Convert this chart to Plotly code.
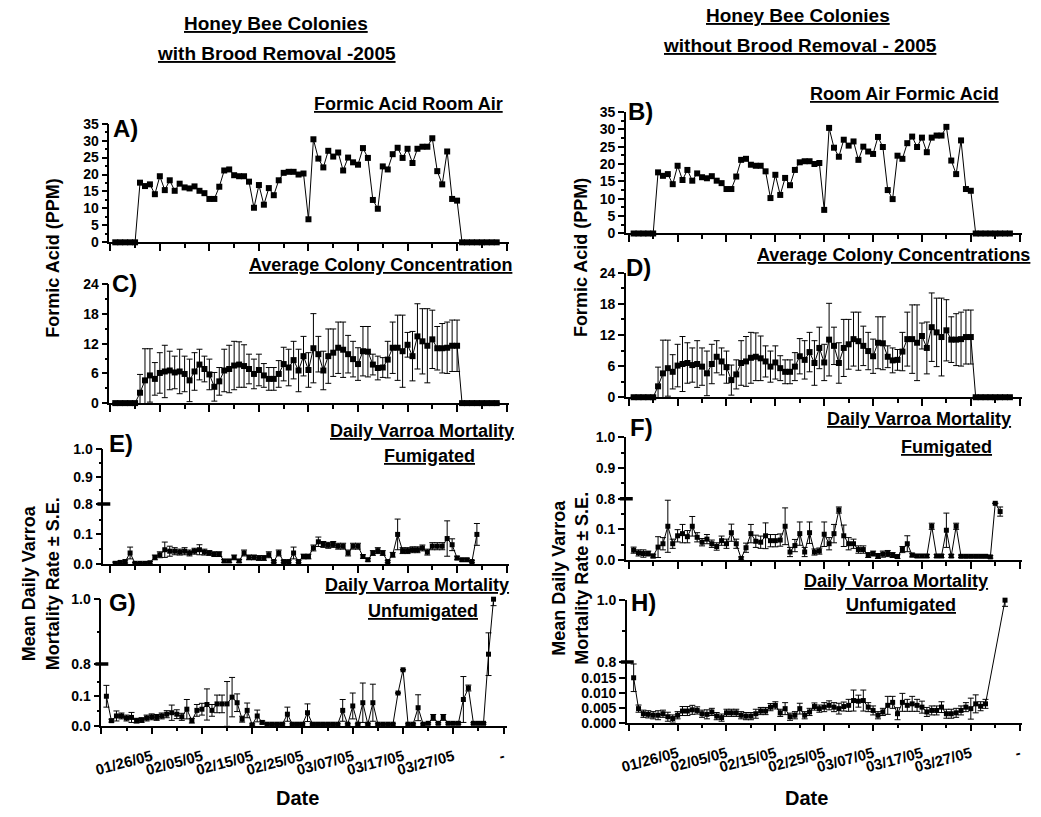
import plotly.graph_objects as go

W, H = 1041, 817
FONT = "Liberation Sans, Arial, sans-serif"

# ---------------- data ----------------
day_ticks = [0, 10, 20, 30, 40, 50, 60, 70, 80]
minor_days = [5, 15, 25, 35, 45, 55, 65, 75]
date_labels = ["", "01/26/05", "02/05/05", "02/15/05", "02/25/05",
               "03/07/05", "03/17/05", "03/27/05", "-"]

days_air = list(range(1, 79))
room_air = [0, 0, 0, 0, 0,
            17.6, 16.6, 17.1, 14.2, 19.5, 15.4, 18.3, 15.2, 17.3, 16.2,
            15.9, 16.5, 15.2, 14.5, 12.8, 12.8, 16.4, 21.2, 21.5, 19.8,
            19.5, 19.5, 17.9, 10.2, 16.9, 11.1, 16.0, 13.9, 18.3, 20.5,
            20.8, 20.8, 20.0, 20.3, 6.8, 30.4, 24.7, 22.1, 27.0, 25.3,
            26.5, 21.2, 25.0, 23.6, 22.9, 27.8, 24.9, 12.5, 9.9, 22.4,
            21.5, 26.0, 27.9, 24.9, 27.6, 23.4, 27.6, 28.2, 28.2, 30.7,
            21.0, 17.1, 26.8, 12.8, 12.3,
            0, 0, 0, 0, 0, 0, 0, 0]

colony_mean = [0, 0, 0, 0, 0,
               2.1, 4.6, 5.6, 4.9, 6.1, 6.4, 6.6, 6.2, 6.4, 5.9,
               4.6, 6.4, 7.8, 6.9, 5.8, 3.3, 4.4, 6.6, 6.9, 7.6,
               7.8, 7.5, 6.9, 5.9, 6.7, 5.6, 4.9, 4.9, 5.9, 7.9,
               7.2, 8.7, 6.6, 9.5, 6.7, 11.1, 9.9, 6.6, 9.5, 10.2,
               11.2, 10.8, 9.9, 8.9, 7.9, 10.5, 10.4, 7.8, 7.1, 7.2,
               8.8, 11.2, 11.2, 10.5, 11.8, 9.5, 13.5, 12.5, 11.6, 12.9,
               11.1, 11.1, 11.2, 11.6, 11.6,
               0, 0, 0, 0, 0, 0, 0, 0]
colony_sd = [None, None, None, None, None,
             3.7, 6.4, 5.4, 3.3, 4.1, 5.3, 3.9, 3.3, 4.5, 3.6,
             4.3, 3.8, 3.1, 2.6, 3.1, 2.9, 2.8, 4.3, 4.8, 4.9,
             4.6, 4.3, 3.0, 3.0, 3.2, 2.4, 2.3, 2.3, 2.7, 3.4,
             3.7, 3.8, 4.3, 4.0, 3.5, 7.0, 3.6, 3.9, 5.5, 4.8,
             5.2, 5.6, 3.8, 3.6, 3.3, 5.0, 5.1, 2.1, 2.4, 2.0,
             3.7, 5.2, 6.6, 7.3, 2.5, 5.0, 6.6, 6.6, 7.5, 5.9,
             4.4, 5.0, 5.2, 5.2, 5.2,
             None, None, None, None, None, None, None, None]

days_E = list(range(1, 75))
fum_br = [0.002, 0.005, 0.008, 0.037, 0.002, 0.002, 0.002, 0.004, 0.022, 0.031,
          0.048, 0.043, 0.043, 0.040, 0.043, 0.037, 0.043, 0.048, 0.040, 0.037,
          0.033, 0.033, 0.010, 0.010, 0.022, 0.010, 0.037, 0.022, 0.022, 0.020,
          0.020, 0.031, 0.008, 0.037, 0.008, 0.008, 0.037, 0.008, 0.025, 0.025,
          0.054, 0.075, 0.066, 0.063, 0.066, 0.060, 0.060, 0.037, 0.060, 0.060,
          0.025, 0.014, 0.037, 0.045, 0.037, 0.008, 0.031, 0.100, 0.045, 0.045,
          0.048, 0.048, 0.054, 0.040, 0.060, 0.060, 0.060, 0.086, 0.065, 0.020,
          0.014, 0.014, 0.008, 0.100]
fum_br_se = [0.004, 0.004, 0.005, 0.020, 0.003, 0.003, 0.003, 0.004, 0.008, 0.010,
             0.026, 0.017, 0.012, 0.010, 0.012, 0.010, 0.010, 0.017, 0.010, 0.008,
             0.008, 0.008, 0.005, 0.005, 0.008, 0.005, 0.010, 0.008, 0.008, 0.008,
             0.008, 0.010, 0.004, 0.010, 0.004, 0.004, 0.020, 0.004, 0.008, 0.008,
             0.010, 0.016, 0.010, 0.010, 0.010, 0.010, 0.010, 0.010, 0.010, 0.010,
             0.006, 0.005, 0.008, 0.010, 0.008, 0.004, 0.008, 0.052, 0.010, 0.010,
             0.010, 0.010, 0.010, 0.010, 0.012, 0.012, 0.012, 0.060, 0.020, 0.006,
             0.005, 0.005, 0.004, 0.037]

days_F = list(range(1, 77))
fum_nobr = [0.032, 0.023, 0.021, 0.021, 0.013, 0.042, 0.053, 0.110, 0.053, 0.079,
            0.086, 0.076, 0.110, 0.074, 0.058, 0.068, 0.053, 0.044, 0.063, 0.053,
            0.089, 0.053, 0.005, 0.040, 0.086, 0.061, 0.058, 0.079, 0.063, 0.063,
            0.065, 0.110, 0.026, 0.047, 0.086, 0.026, 0.089, 0.026, 0.029, 0.084,
            0.053, 0.086, 0.163, 0.079, 0.053, 0.053, 0.034, 0.034, 0.016, 0.021,
            0.013, 0.019, 0.021, 0.016, 0.011, 0.034, 0.053, 0.016, 0.013, 0.013,
            0.013, 0.110, 0.013, 0.013, 0.097, 0.013, 0.110, 0.012, 0.012, 0.012,
            0.012, 0.012, 0.012, 0.010, 0.185, 0.158]
fum_nobr_se = [0.010, 0.010, 0.012, 0.008, 0.006, 0.034, 0.020, 0.085, 0.015, 0.020,
               0.030, 0.020, 0.032, 0.015, 0.012, 0.015, 0.012, 0.012, 0.015, 0.015,
               0.028, 0.015, 0.005, 0.015, 0.030, 0.020, 0.020, 0.042, 0.020, 0.020,
               0.020, 0.060, 0.015, 0.020, 0.038, 0.015, 0.035, 0.010, 0.010, 0.040,
               0.020, 0.030, 0.010, 0.035, 0.020, 0.015, 0.012, 0.012, 0.008, 0.008,
               0.008, 0.010, 0.010, 0.008, 0.006, 0.010, 0.026, 0.006, 0.005, 0.005,
               0.005, 0.010, 0.005, 0.005, 0.056, 0.005, 0.010, 0.004, 0.004, 0.004,
               0.004, 0.004, 0.004, 0.004, None, 0.015]

days_G = list(range(1, 79))
unf_br = [0.100, 0.017, 0.033, 0.033, 0.026, 0.028, 0.017, 0.019, 0.026, 0.030,
          0.028, 0.033, 0.039, 0.044, 0.039, 0.030, 0.056, 0.017, 0.052, 0.056,
          0.072, 0.052, 0.074, 0.074, 0.074, 0.097, 0.078, 0.022, 0.052, 0.003,
          0.033, 0.011, 0.005, 0.005, 0.005, 0.005, 0.039, 0.005, 0.005, 0.005,
          0.044, 0.005, 0.005, 0.005, 0.005, 0.005, 0.005, 0.052, 0.005, 0.067,
          0.005, 0.078, 0.005, 0.078, 0.005, 0.005, 0.005, 0.005, 0.111, 0.190,
          0.005, 0.005, 0.061, 0.005, 0.008, 0.028, 0.008, 0.028, 0.008, 0.008,
          0.008, 0.089, 0.128, 0.008, 0.008, 0.008, 0.830, 1.000]
unf_br_se = [0.037, 0.005, 0.017, 0.010, 0.010, 0.017, 0.008, 0.008, 0.010, 0.010,
             0.010, 0.010, 0.012, 0.026, 0.015, 0.012, 0.033, 0.008, 0.020, 0.020,
             0.053, 0.020, 0.030, 0.030, 0.076, 0.067, 0.030, 0.010, 0.025, 0.003,
             0.020, 0.005, 0.003, 0.003, 0.003, 0.003, 0.024, 0.003, 0.003, 0.003,
             0.030, 0.003, 0.003, 0.003, 0.003, 0.003, 0.003, 0.037, 0.003, 0.044,
             0.003, 0.067, 0.003, 0.063, 0.003, 0.003, 0.003, 0.003, None, None,
             0.003, 0.003, 0.044, 0.003, 0.003, 0.010, 0.003, 0.010, 0.003, 0.003,
             0.003, 0.078, 0.010, 0.003, 0.003, 0.003, 0.066, 0.020]

days_H = list(range(1, 74)) + [77]
unf_nobr = [0.0150, 0.0047, 0.0030, 0.0028, 0.0025, 0.0025, 0.0030, 0.0020, 0.0014, 0.0025,
            0.0039, 0.0039, 0.0043, 0.0041, 0.0030, 0.0028, 0.0036, 0.0022, 0.0017, 0.0033,
            0.0033, 0.0033, 0.0025, 0.0022, 0.0022, 0.0030, 0.0039, 0.0039, 0.0052, 0.0058,
            0.0033, 0.0047, 0.0020, 0.0025, 0.0047, 0.0025, 0.0036, 0.0054, 0.0047, 0.0052,
            0.0058, 0.0052, 0.0047, 0.0054, 0.0058, 0.0074, 0.0072, 0.0074, 0.0052, 0.0041,
            0.0025, 0.0036, 0.0058, 0.0068, 0.0030, 0.0068, 0.0058, 0.0063, 0.0058, 0.0052,
            0.0036, 0.0041, 0.0041, 0.0052, 0.0030, 0.0030, 0.0033, 0.0041, 0.0052, 0.0047,
            0.0063, 0.0055, 0.0063, 1.000]
unf_nobr_se = [0.0046, 0.0012, 0.0012, 0.0012, 0.0012, 0.0015, 0.0012, 0.0015, 0.0012, 0.0012,
               0.0015, 0.0015, 0.0015, 0.0012, 0.0012, 0.0015, 0.0012, 0.0012, 0.0012, 0.0012,
               0.0012, 0.0012, 0.0012, 0.0012, 0.0012, 0.0015, 0.0012, 0.0012, 0.0012, 0.0012,
               0.0012, 0.0020, 0.0012, 0.0012, 0.0018, 0.0012, 0.0012, 0.0012, 0.0012, 0.0015,
               0.0015, 0.0015, 0.0018, 0.0015, 0.0020, 0.0035, 0.0020, 0.0035, 0.0015, 0.0015,
               0.0012, 0.0012, 0.0030, 0.0020, 0.0020, 0.0030, 0.0020, 0.0025, 0.0020, 0.0020,
               0.0015, 0.0015, 0.0015, 0.0018, 0.0015, 0.0015, 0.0015, 0.0015, 0.0015, 0.0035,
               0.0030, 0.0015, 0.0015, 0.0200]


# ---------------- helpers ----------------
def xdom(a, b):
    return [a / W, b / W]


def ydom(top, bot):
    return [1 - bot / H, 1 - top / H]


def make_break(b, s):
    """Broken axis: values <= b drawn as is, 0.8..1.0 drawn above b with scale s."""
    def t(v):
        return v if v <= b else b + (v - 0.8) * s
    return t


def err_arrays(vals, errs, t):
    up, dn = [], []
    for v, e in zip(vals, errs):
        if e is None:
            up.append(None)
            dn.append(None)
        else:
            up.append(t(v + e) - t(v))
            dn.append(t(v) - t(max(v - e, -1)))
    return up, dn


fig = go.Figure()

# panel geometry in pixels: (x_left, x_right, y_top, y_bottom, xrange)
geo = {
    1: (103, 505, 118, 239, [-0.2, 80.4]),   # A
    2: (623, 1022, 106, 230, [-0.6, 80.5]),  # B
    3: (103, 505, 282, 403, [-0.2, 80.4]),   # C
    4: (623, 1022, 270, 397, [-0.6, 80.5]),  # D
    5: (97, 505, 450, 567, [-1.4, 80.4]),    # E
    6: (623, 1022, 438, 563, [-0.6, 80.5]),  # F
    7: (95, 503, 603, 732, [0.0, 80.6]),     # G
    8: (624, 1022, 604, 729, [-0.4, 80.5]),  # H
}

brkE = make_break(0.203, 0.93)
brkF = make_break(0.2, 1.0)
brkG = make_break(0.21, 1.1)
brkH = make_break(0.0203, 0.103)

yinfo = {
    1: dict(range=[0, 35], tickvals=[0, 5, 10, 15, 20, 25, 30, 35],
            ticktext=["0", "5", "10", "15", "20", "25", "30", "35"],
            minor=[2.5, 7.5, 12.5, 17.5, 22.5, 27.5, 32.5]),
    2: dict(range=[0, 35], tickvals=[0, 5, 10, 15, 20, 25, 30, 35],
            ticktext=["0", "5", "10", "15", "20", "25", "30", "35"],
            minor=[2.5, 7.5, 12.5, 17.5, 22.5, 27.5, 32.5]),
    3: dict(range=[0, 24], tickvals=[0, 6, 12, 18, 24],
            ticktext=["0", "6", "12", "18", "24"], minor=[3, 9, 15, 21]),
    4: dict(range=[0, 24], tickvals=[0, 6, 12, 18, 24],
            ticktext=["0", "6", "12", "18", "24"], minor=[3, 9, 15, 21]),
    5: dict(range=[0, brkE(1.0)], tickvals=[brkE(v) for v in [0, 0.1, 0.8, 0.9, 1.0]],
            ticktext=["0.0", "0.1", "0.8", "0.9", "1.0"],
            minor=[brkE(v) for v in [0.05, 0.15, 0.85, 0.95]]),
    6: dict(range=[0, brkF(1.0)], tickvals=[brkF(v) for v in [0, 0.1, 0.8, 0.9, 1.0]],
            ticktext=["0.0", "0.1", "0.8", "0.9", "1.0"],
            minor=[brkF(v) for v in [0.05, 0.15, 0.85, 0.95]]),
    7: dict(range=[0, brkG(1.0)], tickvals=[brkG(v) for v in [0, 0.1, 0.8, 1.0]],
            ticktext=["0.0", "0.1", "0.8", "1.0"],
            minor=[brkG(v) for v in [0.05, 0.15, 0.9]]),
    8: dict(range=[0, brkH(1.0)],
            tickvals=[brkH(v) for v in [0, 0.005, 0.010, 0.015, 0.8, 1.0]],
            ticktext=["0.000", "0.005", "0.010", "0.015", "0.8", "1.0"],
            minor=[brkH(0.9)]),
}

tickfont = dict(family=FONT, size=14, color="black", weight="bold")

for n, (xl, xr, yt, yb, xrg) in geo.items():
    xa = "xaxis" if n == 1 else f"xaxis{n}"
    ya = "yaxis" if n == 1 else f"yaxis{n}"
    ax_x = dict(domain=xdom(xl, xr), range=xrg, anchor=f"y{n}",
                showline=True, linecolor="black", linewidth=1.5,
                showgrid=False, zeroline=False,
                tickmode="array", tickvals=day_ticks,
                ticks="outside", ticklen=7, tickwidth=1.5, tickcolor="black",
                minor=dict(tickmode="array", tickvals=minor_days, ticks="outside",
                           ticklen=4, tickwidth=1.5, tickcolor="black"),
                showticklabels=n in (7, 8))
    if n in (7, 8):
        ax_x.update(ticktext=date_labels, tickangle=-15, ticklabelstandoff=8,
                    tickfont=dict(family=FONT, size=15, color="black", weight="bold"))
    yi = yinfo[n]
    ax_y = dict(domain=ydom(yt, yb), range=yi["range"], anchor=f"x{n}",
                showline=True, linecolor="black", linewidth=1.5,
                showgrid=False, zeroline=False,
                tickmode="array", tickvals=yi["tickvals"], ticktext=yi["ticktext"],
                ticks="outside", ticklen=6, tickwidth=1.5, tickcolor="black",
                minor=dict(tickmode="array", tickvals=yi["minor"], ticks="outside",
                           ticklen=3, tickwidth=1.5, tickcolor="black"),
                tickfont=tickfont)
    fig.update_layout({xa: ax_x, ya: ax_y})

ln = dict(color="black", width=1)


def add(n, x, y, err_up=None, err_dn=None, msize=6):
    tr = go.Scatter(x=x, y=y, mode="lines+markers",
                    marker=dict(symbol="square", size=msize, color="black"),
                    line=ln, xaxis=f"x{n}" if n > 1 else "x",
                    yaxis=f"y{n}" if n > 1 else "y", showlegend=False,
                    cliponaxis=False)
    if err_up is not None:
        tr.error_y = dict(type="data", symmetric=False, array=err_up,
                          arrayminus=err_dn, color="black", thickness=1, width=3)
    fig.add_trace(tr)


# A, B: room air
add(1, days_air, room_air)
add(2, days_air, room_air)
# C, D: colony concentration
add(3, days_air, colony_mean, colony_sd, colony_sd)
add(4, days_air, colony_mean, colony_sd, colony_sd)
# E..H: broken-axis mortality panels
for n, days, vals, errs, t in [(5, days_E, fum_br, fum_br_se, brkE),
                               (6, days_F, fum_nobr, fum_nobr_se, brkF),
                               (7, days_G, unf_br, unf_br_se, brkG),
                               (8, days_H, unf_nobr, unf_nobr_se, brkH)]:
    up, dn = err_arrays(vals, errs, t)
    add(n, days, [t(v) for v in vals], up, dn, msize=5)

# axis-break marks
for n, t in [(5, brkE), (6, brkF), (7, brkG), (8, brkH)]:
    xl = geo[n][0]
    fig.add_shape(type="line", xref="paper", yref=f"y{n}",
                  x0=(xl - 6) / W, x1=(xl + 7) / W, y0=t(0.8), y1=t(0.8),
                  line=dict(color="black", width=3.5))


def ann(text, x, y, size, angle=0, under=False):
    f = dict(family=FONT, size=size, color="black", weight="bold")
    if under:
        f["lineposition"] = "under"
    fig.add_annotation(text=text, x=x / W, y=1 - y / H, xref="paper", yref="paper",
                       xanchor="center", yanchor="middle", showarrow=False,
                       textangle=angle, font=f)


# main titles
ann("Honey Bee Colonies", 271, 16, 19, under=True)
ann("with Brood Removal -2005", 271, 46, 19, under=True)
ann("Honey Bee Colonies", 796, 8, 19, under=True)
ann("without Brood Removal - 2005", 798, 38, 19, under=True)

# panel titles
ann("Formic Acid Room Air", 404, 98, 18, under=True)
ann("Room Air Formic Acid", 904, 88, 18, under=True)
ann("Average Colony Concentration", 376, 262, 18, under=True)
ann("Average Colony Concentrations", 893, 252, 18, under=True)
ann("Daily Varroa Mortality", 418, 431, 18, under=True)
ann("Fumigated", 425, 457, 18, under=True)
ann("Daily Varroa Mortality", 918, 419, 18, under=True)
ann("Fumigated", 946, 448, 18, under=True)
ann("Daily Varroa Mortality", 413, 589, 18, under=True)
ann("Unfumigated", 419, 615, 18, under=True)
ann("Daily Varroa Mortality", 895, 584, 18, under=True)
ann("Unfumigated", 900, 609, 18, under=True)

# panel letters
for lab, x, y in [("A)", 119, 123), ("B)", 638, 106), ("C)", 118, 281), ("D)", 636, 265),
                  ("E)", 115, 444), ("F)", 639, 428), ("G)", 116, 606), ("H)", 641, 606)]:
    ann(lab, x, y, 24)

# axis titles
ann("Formic Acid (PPM)", 46, 255, 18, angle=-90)
ann("Formic Acid (PPM)", 578, 255, 18, angle=-90)
ann("Mean Daily Varroa<br>Mortality Rate ± S.E.", 34, 587, 18, angle=-90)
ann("Mean Daily Varroa<br>Mortality Rate ± S.E.", 567, 582, 18, angle=-90)
ann("Date", 292, 806, 20)
ann("Date", 805, 806, 20)

fig.update_layout(width=W, height=H, margin=dict(l=0, r=0, t=0, b=0),
                  paper_bgcolor="white", plot_bgcolor="white", showlegend=False)

fig.write_html("out.html")
